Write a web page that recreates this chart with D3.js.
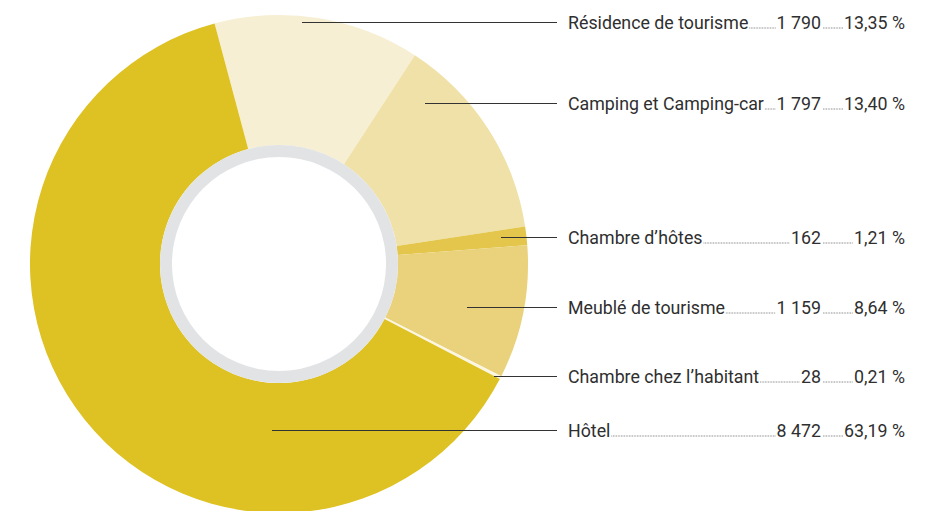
<!DOCTYPE html>
<html lang="fr">
<head>
<meta charset="utf-8">
<script src="https://cdn.jsdelivr.net/npm/d3@7"></script>
<style>
  html, body { margin: 0; padding: 0; background: #fff; }
  svg { display: block; }
  text { font-family: Roboto, "Liberation Sans", sans-serif; fill: #2f2f2f; }
</style>
</head>
<body>
<svg id="chart" width="938" height="511"></svg>
<script>
// Hébergements touristiques : nombre et part
const categories = [
  "Résidence de tourisme",
  "Camping et Camping-car",
  "Chambre d’hôtes",
  "Meublé de tourisme",
  "Chambre chez l’habitant",
  "Hôtel"
];
const counts = [1790, 1797, 162, 1159, 28, 8472];
const countLabels = ["1 790", "1 797", "162", "1 159", "28", "8 472"];
const shareLabels = ["13,35 %", "13,40 %", "1,21 %", "8,64 %", "0,21 %", "63,19 %"];
const colors = ["#f7efd3", "#f0e1a8", "#e3c64b", "#e9d27b", "#fbf6e1", "#dec122"];

// Label placement (vertical position of each callout, and where its leader starts)
const labelY = [22, 103, 237, 307, 376, 430];
const leaderStartX = [302, 425, 501, 467, 494, 272];

const svg = d3.select("#chart");
const cx = 279, cy = 264;
const outerR = 249, innerR = 119, ringW = 12;

const pie = d3.pie()
  .value(d => d)
  .sort(null)
  .startAngle(-15 * Math.PI / 180)
  .endAngle((360 - 15) * Math.PI / 180);

const arc = d3.arc().innerRadius(innerR).outerRadius(outerR);

const g = svg.append("g").attr("transform", `translate(${cx},${cy})`);

g.selectAll("path.slice")
  .data(pie(counts))
  .join("path")
  .attr("class", "slice")
  .attr("d", arc)
  .attr("fill", (d, i) => colors[i]);

// grey ring around the hole
g.append("path")
  .attr("d", d3.arc().innerRadius(innerR - ringW).outerRadius(innerR)({startAngle: 0, endAngle: 2 * Math.PI}))
  .attr("fill", "#e2e3e5");

// callouts
const textX = 568, lineEnd = 557, countRight = 821, shareRight = 905;
const fontSize = 17.8;

const labels = svg.append("g");
categories.forEach((name, i) => {
  const y = labelY[i];
  labels.append("line")
    .attr("x1", leaderStartX[i]).attr("x2", lineEnd)
    .attr("y1", y + 0.5).attr("y2", y + 0.5)
    .attr("stroke", "#333").attr("stroke-width", 1);

  const base = y + 6.5;
  const t1 = labels.append("text")
    .attr("x", textX).attr("y", base)
    .attr("font-size", fontSize)
    .text(name);
  const t2 = labels.append("text")
    .attr("x", countRight).attr("y", base)
    .attr("font-size", fontSize)
    .attr("text-anchor", "end")
    .text(countLabels[i]);
  const t3 = labels.append("text")
    .attr("x", shareRight).attr("y", base)
    .attr("font-size", fontSize)
    .attr("text-anchor", "end")
    .text(shareLabels[i]);

  const w1 = t1.node().getComputedTextLength();
  const w2 = t2.node().getComputedTextLength();
  const w3 = t3.node().getComputedTextLength();

  const dots = (xa, xb) => {
    if (xb - xa < 3) return;
    labels.append("line")
      .attr("x1", xa).attr("x2", xb)
      .attr("y1", base - 0.5).attr("y2", base - 0.5)
      .attr("stroke", "#555").attr("stroke-width", 0.8)
      .attr("stroke-dasharray", "0.8,0.8");
  };
  dots(textX + w1 + 1, countRight - w2 - 1);
  dots(countRight + 2, shareRight - w3 - 1);
});
</script>
</body>
</html>
